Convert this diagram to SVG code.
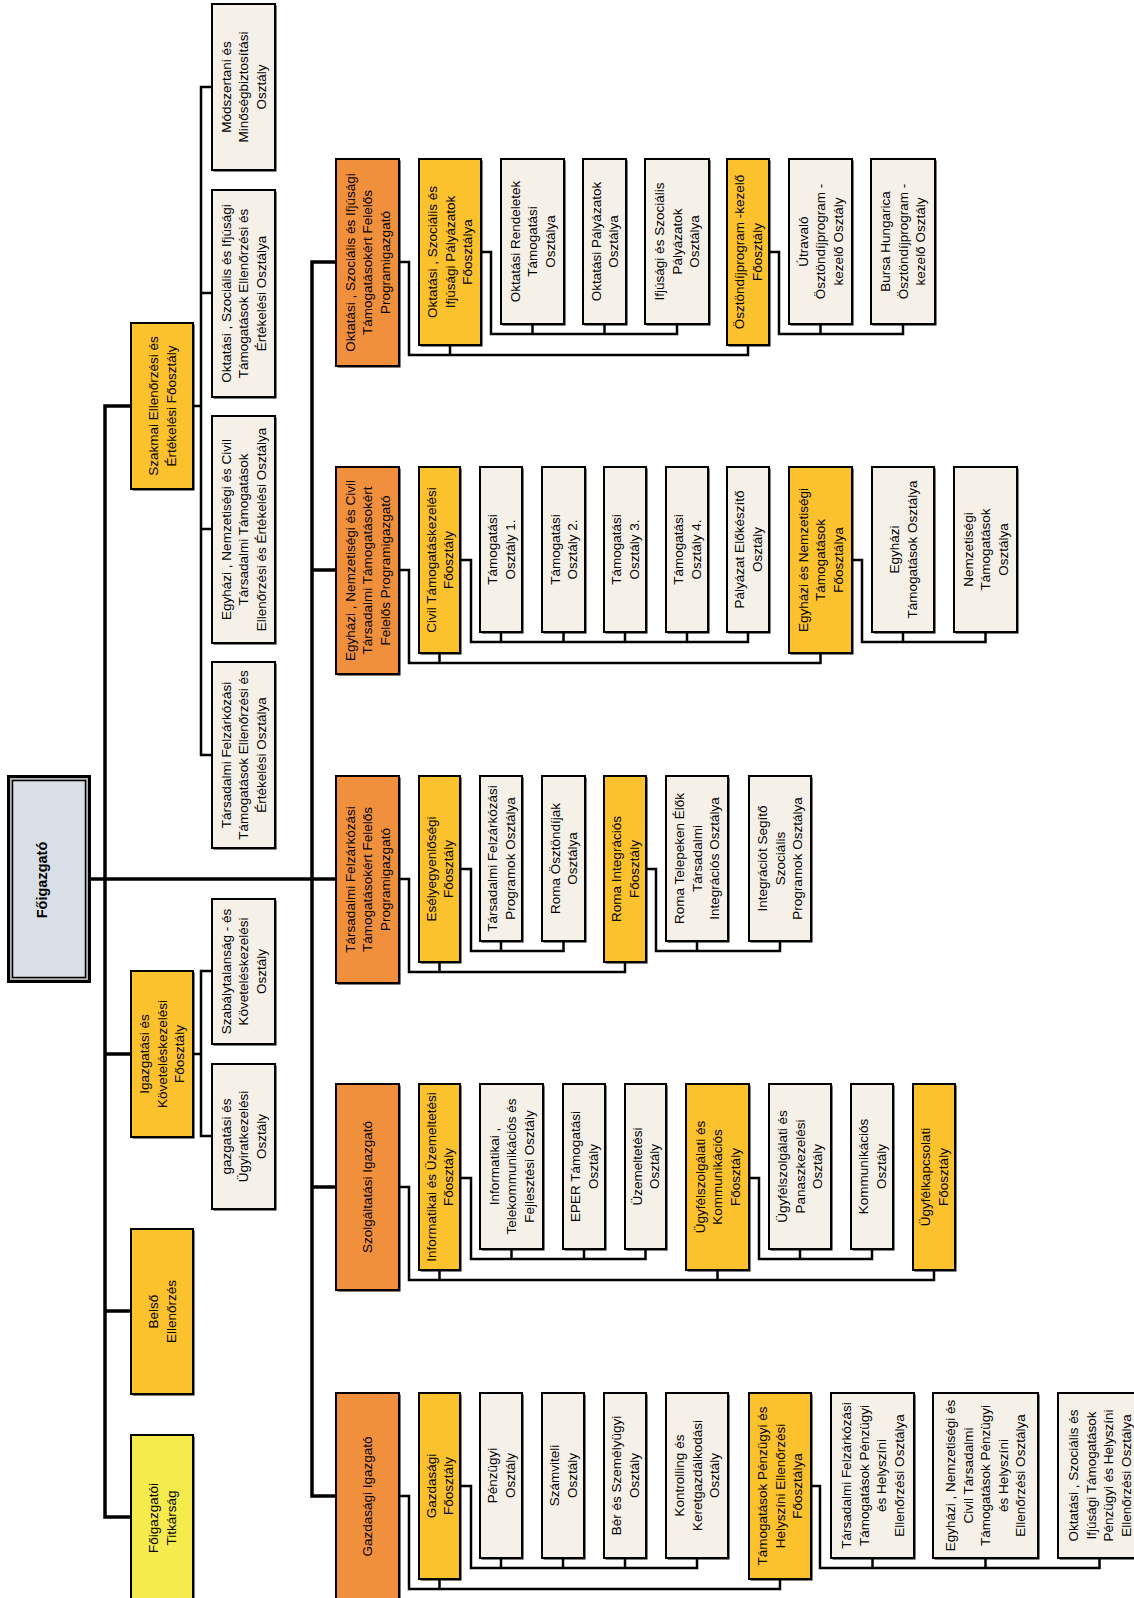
<svg xmlns="http://www.w3.org/2000/svg" width="1134" height="1598" viewBox="0 0 1134 1598">
<style>
  .or{fill:#f1903c}
  .ye{fill:#fcc22d}
  .be{fill:#f6f1e8}
  .tk{fill:#f5eb4d}
  .box{stroke:#000;stroke-width:2}
  .sh{fill:#000}
  .t{font-family:"Liberation Sans",Arial,sans-serif;font-size:13.5px;text-anchor:middle;fill:#000}
  .tb{font-family:"Liberation Sans",Arial,sans-serif;font-size:14.5px;font-weight:bold;text-anchor:middle;fill:#000}
  .c{fill:none;stroke:#000;stroke-width:2.5;stroke-linecap:square;stroke-linejoin:miter}
  .m{stroke-width:3.5}
</style>
<rect width="1134" height="1598" fill="#fff"/>

<!-- connectors -->
<g id="connectors">
  <path class="c m" d="M91 879 H336"/>
  <path class="c m" d="M131 406 H105 V1517 H131 M105 1054 H131 M105 1311 H131"/>
  <path class="c m" d="M336 262 H312 V1496 H336 M312 570 H336 M312 1187 H336"/>
  <!-- Szakmai Ellenőrzési és Értékelési Főosztály -->
  <path class="c" d="M193 406 H201 M212 87 H201 V755 H212 M201 293 H212 M201 529 H212"/>
  <!-- Igazgatási és Követeléskezelési Főosztály -->
  <path class="c" d="M193 1054 H201 M212 971 H201 V1136 H212"/>
  <!-- Oktatási programigazgató -->
  <path class="c" d="M399 262 H409 V355 H748 V345 M450 345 V355"/>
  <path class="c" d="M481 252 H491 V334 H677 V324 M532.5 324 V334 M604.5 324 V334"/>
  <path class="c" d="M769 252 H779 V334 H903 V324 M820.5 324 V334"/>
  <!-- Egyházi, Nemzetiségi és Civil programigazgató -->
  <path class="c" d="M399 570 H409 V663 H820.5 V653 M439.5 653 V663"/>
  <path class="c" d="M460 560 H471 V642 H748 V632 M501 632 V642 M563.5 632 V642 M625 632 V642 M687 632 V642"/>
  <path class="c" d="M852 560 H862 V642 H985.5 V632 M903 632 V642"/>
  <!-- Társadalmi Felzárkózási programigazgató -->
  <path class="c" d="M399 879 H409 V972 H625 V962 M439.5 962 V972"/>
  <path class="c" d="M460 869 H471 V951 H563.5 V941 M501 941 V951"/>
  <path class="c" d="M646 869 H656 V951 H780 V941 M697 941 V951"/>
  <!-- Szolgáltatási Igazgató -->
  <path class="c" d="M399 1187 H409 V1280 H934 V1270 M439.5 1270 V1280 M717.5 1270 V1280"/>
  <path class="c" d="M460 1178 H471 V1259 H645.5 V1249 M511.5 1249 V1259 M584 1249 V1259"/>
  <path class="c" d="M749 1178 H759 V1259 H872 V1249 M800 1249 V1259"/>
  <!-- Gazdasági Igazgató -->
  <path class="c" d="M399 1496 H409 V1589 H780 V1579 M439.5 1579 V1589"/>
  <path class="c" d="M460 1486 H471 V1568 H697 V1558 M501 1558 V1568 M563 1558 V1568 M625 1558 V1568"/>
  <path class="c" d="M811 1486 H820 V1568 H1099.5 V1558 M872.5 1558 V1568 M985.5 1558 V1568"/>
</g>

<!-- top node -->
<g id="foigazgato">
  <rect x="8.5" y="776.5" width="81" height="205" fill="#b4b4b4" stroke="#000" stroke-width="3"/>
  <rect x="12.5" y="780.5" width="73" height="197" fill="#d8dfe7" stroke="#000" stroke-width="1.5"/>
  <g transform="translate(42,880) rotate(-90)"><text class="tb" x="0" y="5">Főigazgató</text></g>
</g>

<!-- left column -->
<g id="titkarsag"><rect class="sh" x="132.5" y="1436.5" width="62" height="166"/><rect class="box tk" x="131" y="1435" width="62" height="166"/>
  <g transform="translate(162,1518) rotate(-90)"><text class="t"><tspan x="0" y="-3.95">Főigazgatói</tspan><tspan x="0" y="13.55">Titkárság</tspan></text></g></g>
<g id="belso"><rect class="sh" x="132.5" y="1230.5" width="62" height="165"/><rect class="box ye" x="131" y="1229" width="62" height="165"/>
  <g transform="translate(162,1311.5) rotate(-90)"><text class="t"><tspan x="0" y="-3.95">Belső</tspan><tspan x="0" y="13.55">Ellenőrzés</tspan></text></g></g>
<g id="igazgatasi"><rect class="sh" x="132.5" y="972.5" width="62" height="166"/><rect class="box ye" x="131" y="971" width="62" height="166"/>
  <g transform="translate(162,1054) rotate(-90)"><text class="t"><tspan x="0" y="-12.7">Igazgatási és</tspan><tspan x="0" y="4.8">Követeléskezelési</tspan><tspan x="0" y="22.3">Főosztály</tspan></text></g></g>
<g id="szakmai"><rect class="sh" x="132.5" y="324.5" width="62" height="166"/><rect class="box ye" x="131" y="323" width="62" height="166"/>
  <g transform="translate(162,406) rotate(-90)"><text class="t"><tspan x="0" y="-3.95">Szakmai Ellenőrzési és</tspan><tspan x="0" y="13.55">Értékelési Főosztály</tspan></text></g></g>

<g id="modszertani"><rect class="sh" x="213.5" y="5.5" width="63" height="166"/><rect class="box be" x="212" y="4" width="63" height="166"/>
  <g transform="translate(243.5,87) rotate(-90)"><text class="t"><tspan x="0" y="-12.7">Módszertani és</tspan><tspan x="0" y="4.8">Minőségbiztosítási</tspan><tspan x="0" y="22.3">Osztály</tspan></text></g></g>
<g id="oktatasi-ell"><rect class="sh" x="213.5" y="191.5" width="63" height="207"/><rect class="box be" x="212" y="190" width="63" height="207"/>
  <g transform="translate(243.5,293.5) rotate(-90)"><text class="t"><tspan x="0" y="-12.7">Oktatási , Szociális és Ifjúsági</tspan><tspan x="0" y="4.8">Támogatások Ellenőrzési és</tspan><tspan x="0" y="22.3">Értékelési Osztálya</tspan></text></g></g>
<g id="egyhazi-ell"><rect class="sh" x="213.5" y="417.5" width="63" height="227"/><rect class="box be" x="212" y="416" width="63" height="227"/>
  <g transform="translate(243.5,529.5) rotate(-90)"><text class="t"><tspan x="0" y="-12.7">Egyházi , Nemzetiségi és Civil</tspan><tspan x="0" y="4.8">Társadalmi Támogatások</tspan><tspan x="0" y="22.3">Ellenőrzési és Értékelési Osztálya</tspan></text></g></g>
<g id="tarsadalmi-ell"><rect class="sh" x="213.5" y="663.5" width="63" height="186"/><rect class="box be" x="212" y="662" width="63" height="186"/>
  <g transform="translate(243.5,755) rotate(-90)"><text class="t"><tspan x="0" y="-12.7">Társadalmi Felzárkózási</tspan><tspan x="0" y="4.8">Támogatások Ellenőrzési és</tspan><tspan x="0" y="22.3">Értékelési Osztálya</tspan></text></g></g>
<g id="szabalytalansag"><rect class="sh" x="213.5" y="900.5" width="63" height="145"/><rect class="box be" x="212" y="899" width="63" height="145"/>
  <g transform="translate(243.5,971.5) rotate(-90)"><text class="t"><tspan x="0" y="-12.7">Szabálytalanság - és</tspan><tspan x="0" y="4.8">Követeléskezelési</tspan><tspan x="0" y="22.3">Osztály</tspan></text></g></g>
<g id="ugyirat"><rect class="sh" x="213.5" y="1065.5" width="63" height="145"/><rect class="box be" x="212" y="1064" width="63" height="145"/>
  <g transform="translate(243.5,1136.5) rotate(-90)"><text class="t"><tspan x="0" y="-12.7">gazgatási és</tspan><tspan x="0" y="4.8">Ügyiratkezelési</tspan><tspan x="0" y="22.3">Osztály</tspan></text></g></g>

<!-- directors -->
<g id="dir-oktatasi"><rect class="sh" x="337.5" y="160.5" width="63" height="207"/><rect class="box or" x="336" y="159" width="63" height="207"/>
  <g transform="translate(367.5,262.5) rotate(-90)"><text class="t"><tspan x="0" y="-12.7">Oktatási , Szociális és Ifjúsági</tspan><tspan x="0" y="4.8">Támogatásokért Felelős</tspan><tspan x="0" y="22.3">Programigazgató</tspan></text></g></g>
<g id="dir-egyhazi"><rect class="sh" x="337.5" y="468.5" width="63" height="207"/><rect class="box or" x="336" y="467" width="63" height="207"/>
  <g transform="translate(367.5,570.5) rotate(-90)"><text class="t"><tspan x="0" y="-12.7">Egyházi , Nemzetiségi és Civil</tspan><tspan x="0" y="4.8">Társadalmi Támogatásokért</tspan><tspan x="0" y="22.3">Felelős Programigazgató</tspan></text></g></g>
<g id="dir-tarsadalmi"><rect class="sh" x="337.5" y="777.5" width="63" height="207"/><rect class="box or" x="336" y="776" width="63" height="207"/>
  <g transform="translate(367.5,879.5) rotate(-90)"><text class="t"><tspan x="0" y="-12.7">Társadalmi Felzárkózási</tspan><tspan x="0" y="4.8">Támogatásokért Felelős</tspan><tspan x="0" y="22.3">Programigazgató</tspan></text></g></g>
<g id="dir-szolgaltatasi"><rect class="sh" x="337.5" y="1085.5" width="63" height="206"/><rect class="box or" x="336" y="1084" width="63" height="206"/>
  <g transform="translate(367.5,1187) rotate(-90)"><text class="t"><tspan x="0" y="4.8">Szolgáltatási Igazgató</tspan></text></g></g>
<g id="dir-gazdasagi"><rect class="sh" x="337.5" y="1394.5" width="63" height="207"/><rect class="box or" x="336" y="1393" width="63" height="207"/>
  <g transform="translate(367.5,1496.5) rotate(-90)"><text class="t"><tspan x="0" y="4.8">Gazdasági Igazgató</tspan></text></g></g>

<!-- row A -->
<g id="a-palyazatok"><rect class="sh" x="420.5" y="160.5" width="62" height="186"/><rect class="box ye" x="419" y="159" width="62" height="186"/>
  <g transform="translate(450,252) rotate(-90)"><text class="t"><tspan x="0" y="-12.7">Oktatási , Szociális és</tspan><tspan x="0" y="4.8">Ifjúsági Pályázatok</tspan><tspan x="0" y="22.3">Főosztálya</tspan></text></g></g>
<g id="a-rendeletek"><rect class="sh" x="502.5" y="160.5" width="63" height="165"/><rect class="box be" x="501" y="159" width="63" height="165"/>
  <g transform="translate(532.5,241.5) rotate(-90)"><text class="t"><tspan x="0" y="-12.7">Oktatási Rendeletek</tspan><tspan x="0" y="4.8">Támogatási</tspan><tspan x="0" y="22.3">Osztálya</tspan></text></g></g>
<g id="a-okt-palyazatok"><rect class="sh" x="584.5" y="160.5" width="43" height="165"/><rect class="box be" x="583" y="159" width="43" height="165"/>
  <g transform="translate(604.5,241.5) rotate(-90)"><text class="t"><tspan x="0" y="-3.95">Oktatási Pályázatok</tspan><tspan x="0" y="13.55">Osztálya</tspan></text></g></g>
<g id="a-ifjusagi"><rect class="sh" x="646.5" y="160.5" width="64" height="165"/><rect class="box be" x="645" y="159" width="64" height="165"/>
  <g transform="translate(677,241.5) rotate(-90)"><text class="t"><tspan x="0" y="-12.7">Ifjúsági és Szociális</tspan><tspan x="0" y="4.8">Pályázatok</tspan><tspan x="0" y="22.3">Osztálya</tspan></text></g></g>
<g id="a-osztondij"><rect class="sh" x="728.5" y="160.5" width="42" height="186"/><rect class="box ye" x="727" y="159" width="42" height="186"/>
  <g transform="translate(748,252) rotate(-90)"><text class="t"><tspan x="0" y="-3.95">Ösztöndíjprogram -kezelő</tspan><tspan x="0" y="13.55">Főosztály</tspan></text></g></g>
<g id="a-utravalo"><rect class="sh" x="790.5" y="160.5" width="63" height="165"/><rect class="box be" x="789" y="159" width="63" height="165"/>
  <g transform="translate(820.5,241.5) rotate(-90)"><text class="t"><tspan x="0" y="-12.7">Útravaló</tspan><tspan x="0" y="4.8">Ösztöndíjprogram -</tspan><tspan x="0" y="22.3">kezelő Osztály</tspan></text></g></g>
<g id="a-bursa"><rect class="sh" x="872.5" y="160.5" width="64" height="165"/><rect class="box be" x="871" y="159" width="64" height="165"/>
  <g transform="translate(903,241.5) rotate(-90)"><text class="t"><tspan x="0" y="-12.7">Bursa Hungarica</tspan><tspan x="0" y="4.8">Ösztöndíjprogram -</tspan><tspan x="0" y="22.3">kezelő Osztály</tspan></text></g></g>

<!-- row B -->
<g id="b-civil"><rect class="sh" x="420.5" y="468.5" width="41" height="186"/><rect class="box ye" x="419" y="467" width="41" height="186"/>
  <g transform="translate(439.5,560) rotate(-90)"><text class="t"><tspan x="0" y="-3.95">Civil Támogatáskezelési</tspan><tspan x="0" y="13.55">Főosztály</tspan></text></g></g>
<g id="b-tam1"><rect class="sh" x="481.5" y="468.5" width="42" height="165"/><rect class="box be" x="480" y="467" width="42" height="165"/>
  <g transform="translate(501,549.5) rotate(-90)"><text class="t"><tspan x="0" y="-3.95">Támogatási</tspan><tspan x="0" y="13.55">Osztály 1.</tspan></text></g></g>
<g id="b-tam2"><rect class="sh" x="543.5" y="468.5" width="43" height="165"/><rect class="box be" x="542" y="467" width="43" height="165"/>
  <g transform="translate(563.5,549.5) rotate(-90)"><text class="t"><tspan x="0" y="-3.95">Támogatási</tspan><tspan x="0" y="13.55">Osztály 2.</tspan></text></g></g>
<g id="b-tam3"><rect class="sh" x="605.5" y="468.5" width="42" height="165"/><rect class="box be" x="604" y="467" width="42" height="165"/>
  <g transform="translate(625,549.5) rotate(-90)"><text class="t"><tspan x="0" y="-3.95">Támogatási</tspan><tspan x="0" y="13.55">Osztály 3.</tspan></text></g></g>
<g id="b-tam4"><rect class="sh" x="667.5" y="468.5" width="42" height="165"/><rect class="box be" x="666" y="467" width="42" height="165"/>
  <g transform="translate(687,549.5) rotate(-90)"><text class="t"><tspan x="0" y="-3.95">Támogatási</tspan><tspan x="0" y="13.55">Osztály 4.</tspan></text></g></g>
<g id="b-palyazat"><rect class="sh" x="728.5" y="468.5" width="42" height="165"/><rect class="box be" x="727" y="467" width="42" height="165"/>
  <g transform="translate(748,549.5) rotate(-90)"><text class="t"><tspan x="0" y="-3.95">Pályázat Előkészítő</tspan><tspan x="0" y="13.55">Osztály</tspan></text></g></g>
<g id="b-egyhazi-nemz"><rect class="sh" x="790.5" y="468.5" width="63" height="186"/><rect class="box ye" x="789" y="467" width="63" height="186"/>
  <g transform="translate(820.5,560) rotate(-90)"><text class="t"><tspan x="0" y="-12.7">Egyházi és Nemzetiségi</tspan><tspan x="0" y="4.8">Támogatások</tspan><tspan x="0" y="22.3">Főosztálya</tspan></text></g></g>
<g id="b-egyhazi"><rect class="sh" x="873.5" y="468.5" width="62" height="165"/><rect class="box be" x="872" y="467" width="62" height="165"/>
  <g transform="translate(903,549.5) rotate(-90)"><text class="t"><tspan x="0" y="-3.95">Egyházi</tspan><tspan x="0" y="13.55">Támogatások Osztálya</tspan></text></g></g>
<g id="b-nemzetisegi"><rect class="sh" x="955.5" y="468.5" width="63" height="165"/><rect class="box be" x="954" y="467" width="63" height="165"/>
  <g transform="translate(985.5,549.5) rotate(-90)"><text class="t"><tspan x="0" y="-12.7">Nemzetiségi</tspan><tspan x="0" y="4.8">Támogatások</tspan><tspan x="0" y="22.3">Osztálya</tspan></text></g></g>

<!-- row C -->
<g id="c-esely"><rect class="sh" x="420.5" y="777.5" width="41" height="186"/><rect class="box ye" x="419" y="776" width="41" height="186"/>
  <g transform="translate(439.5,869) rotate(-90)"><text class="t"><tspan x="0" y="-3.95">Esélyegyenlőségi</tspan><tspan x="0" y="13.55">Főosztály</tspan></text></g></g>
<g id="c-programok"><rect class="sh" x="481.5" y="777.5" width="42" height="165"/><rect class="box be" x="480" y="776" width="42" height="165"/>
  <g transform="translate(501,858.5) rotate(-90)"><text class="t"><tspan x="0" y="-3.95">Társadalmi Felzárkózási</tspan><tspan x="0" y="13.55">Programok Osztálya</tspan></text></g></g>
<g id="c-roma-osztondij"><rect class="sh" x="543.5" y="777.5" width="43" height="165"/><rect class="box be" x="542" y="776" width="43" height="165"/>
  <g transform="translate(563.5,858.5) rotate(-90)"><text class="t"><tspan x="0" y="-3.95">Roma Ösztöndíjak</tspan><tspan x="0" y="13.55">Osztálya</tspan></text></g></g>
<g id="c-roma-int"><rect class="sh" x="605.5" y="777.5" width="42" height="186"/><rect class="box ye" x="604" y="776" width="42" height="186"/>
  <g transform="translate(625,869) rotate(-90)"><text class="t"><tspan x="0" y="-3.95">Roma Integrációs</tspan><tspan x="0" y="13.55">Főosztály</tspan></text></g></g>
<g id="c-telepek"><rect class="sh" x="667.5" y="777.5" width="62" height="165"/><rect class="box be" x="666" y="776" width="62" height="165"/>
  <g transform="translate(697,858.5) rotate(-90)"><text class="t"><tspan x="0" y="-12.7">Roma Telepeken Élők</tspan><tspan x="0" y="4.8">Társadalmi</tspan><tspan x="0" y="22.3">Integrációs Osztálya</tspan></text></g></g>
<g id="c-segito"><rect class="sh" x="750.5" y="777.5" width="62" height="165"/><rect class="box be" x="749" y="776" width="62" height="165"/>
  <g transform="translate(780,858.5) rotate(-90)"><text class="t"><tspan x="0" y="-12.7">Integrációt Segítő</tspan><tspan x="0" y="4.8">Szociális</tspan><tspan x="0" y="22.3">Programok Osztálya</tspan></text></g></g>

<!-- row D -->
<g id="d-informatikai-fo"><rect class="sh" x="420.5" y="1085.5" width="41" height="186"/><rect class="box ye" x="419" y="1084" width="41" height="186"/>
  <g transform="translate(439.5,1177) rotate(-90)"><text class="t"><tspan x="0" y="-3.95">Informatikai és Üzemeltetési</tspan><tspan x="0" y="13.55">Főosztály</tspan></text></g></g>
<g id="d-telekom"><rect class="sh" x="481.5" y="1085.5" width="63" height="165"/><rect class="box be" x="480" y="1084" width="63" height="165"/>
  <g transform="translate(511.5,1166.5) rotate(-90)"><text class="t"><tspan x="0" y="-12.7">Informatikai ,</tspan><tspan x="0" y="4.8">Telekommunikációs és</tspan><tspan x="0" y="22.3">Fejlesztési Osztály</tspan></text></g></g>
<g id="d-eper"><rect class="sh" x="564.5" y="1085.5" width="42" height="165"/><rect class="box be" x="563" y="1084" width="42" height="165"/>
  <g transform="translate(584,1166.5) rotate(-90)"><text class="t"><tspan x="0" y="-3.95">EPER Támogatási</tspan><tspan x="0" y="13.55">Osztály</tspan></text></g></g>
<g id="d-uzemeltetesi"><rect class="sh" x="626.5" y="1085.5" width="41" height="165"/><rect class="box be" x="625" y="1084" width="41" height="165"/>
  <g transform="translate(645.5,1166.5) rotate(-90)"><text class="t"><tspan x="0" y="-3.95">Üzemeltetési</tspan><tspan x="0" y="13.55">Osztály</tspan></text></g></g>
<g id="d-ugyfelszolg-fo"><rect class="sh" x="687.5" y="1085.5" width="63" height="186"/><rect class="box ye" x="686" y="1084" width="63" height="186"/>
  <g transform="translate(717.5,1177) rotate(-90)"><text class="t"><tspan x="0" y="-12.7">Ügyfélszolgálati és</tspan><tspan x="0" y="4.8">Kommunikációs</tspan><tspan x="0" y="22.3">Főosztály</tspan></text></g></g>
<g id="d-panasz"><rect class="sh" x="770.5" y="1085.5" width="62" height="165"/><rect class="box be" x="769" y="1084" width="62" height="165"/>
  <g transform="translate(800,1166.5) rotate(-90)"><text class="t"><tspan x="0" y="-12.7">Ügyfélszolgálati és</tspan><tspan x="0" y="4.8">Panaszkezelési</tspan><tspan x="0" y="22.3">Osztály</tspan></text></g></g>
<g id="d-kommunikacios"><rect class="sh" x="852.5" y="1085.5" width="42" height="165"/><rect class="box be" x="851" y="1084" width="42" height="165"/>
  <g transform="translate(872,1166.5) rotate(-90)"><text class="t"><tspan x="0" y="-3.95">Kommunikációs</tspan><tspan x="0" y="13.55">Osztály</tspan></text></g></g>
<g id="d-ugyfelkapcsolati"><rect class="sh" x="914.5" y="1085.5" width="42" height="186"/><rect class="box ye" x="913" y="1084" width="42" height="186"/>
  <g transform="translate(934,1177) rotate(-90)"><text class="t"><tspan x="0" y="-3.95">Ügyfélkapcsolati</tspan><tspan x="0" y="13.55">Főosztály</tspan></text></g></g>

<!-- row E -->
<g id="e-gazdasagi-fo"><rect class="sh" x="420.5" y="1394.5" width="41" height="186"/><rect class="box ye" x="419" y="1393" width="41" height="186"/>
  <g transform="translate(439.5,1486) rotate(-90)"><text class="t"><tspan x="0" y="-3.95">Gazdasági</tspan><tspan x="0" y="13.55">Főosztály</tspan></text></g></g>
<g id="e-penzugyi"><rect class="sh" x="481.5" y="1394.5" width="42" height="165"/><rect class="box be" x="480" y="1393" width="42" height="165"/>
  <g transform="translate(501,1475.5) rotate(-90)"><text class="t"><tspan x="0" y="-3.95">Pénzügyi</tspan><tspan x="0" y="13.55">Osztály</tspan></text></g></g>
<g id="e-szamviteli"><rect class="sh" x="543.5" y="1394.5" width="42" height="165"/><rect class="box be" x="542" y="1393" width="42" height="165"/>
  <g transform="translate(563,1475.5) rotate(-90)"><text class="t"><tspan x="0" y="-3.95">Számviteli</tspan><tspan x="0" y="13.55">Osztály</tspan></text></g></g>
<g id="e-ber"><rect class="sh" x="605.5" y="1394.5" width="42" height="165"/><rect class="box be" x="604" y="1393" width="42" height="165"/>
  <g transform="translate(625,1475.5) rotate(-90)"><text class="t"><tspan x="0" y="-3.95">Bér és Személyügyi</tspan><tspan x="0" y="13.55">Osztály</tspan></text></g></g>
<g id="e-kontrolling"><rect class="sh" x="667.5" y="1394.5" width="62" height="165"/><rect class="box be" x="666" y="1393" width="62" height="165"/>
  <g transform="translate(697,1475.5) rotate(-90)"><text class="t"><tspan x="0" y="-12.7">Kontrolling és</tspan><tspan x="0" y="4.8">Keretgazdálkodási</tspan><tspan x="0" y="22.3">Osztály</tspan></text></g></g>
<g id="e-tamogatasok-fo"><rect class="sh" x="750.5" y="1394.5" width="62" height="186"/><rect class="box ye" x="749" y="1393" width="62" height="186"/>
  <g transform="translate(780,1486) rotate(-90)"><text class="t"><tspan x="0" y="-12.7">Támogatások Pénzügyi és</tspan><tspan x="0" y="4.8">Helyszíni Ellenőrzési</tspan><tspan x="0" y="22.3">Főosztálya</tspan></text></g></g>
<g id="e-tarsadalmi"><rect class="sh" x="832.5" y="1394.5" width="83" height="165"/><rect class="box be" x="831" y="1393" width="83" height="165"/>
  <g transform="translate(872.5,1475.5) rotate(-90)"><text class="t"><tspan x="0" y="-21.45">Társadalmi Felzárkózási</tspan><tspan x="0" y="-3.95">Támogatások Pénzügyi</tspan><tspan x="0" y="13.55">és Helyszíni</tspan><tspan x="0" y="31.05">Ellenőrzési Osztálya</tspan></text></g></g>
<g id="e-egyhazi"><rect class="sh" x="934.5" y="1394.5" width="105" height="165"/><rect class="box be" x="933" y="1393" width="105" height="165"/>
  <g transform="translate(985.5,1475.5) rotate(-90)"><text class="t"><tspan x="0" y="-30.2">Egyházi , Nemzetiségi és</tspan><tspan x="0" y="-12.7">Civil Társadalmi</tspan><tspan x="0" y="4.8">Támogatások Pénzügyi</tspan><tspan x="0" y="22.3">és Helyszíni</tspan><tspan x="0" y="39.8">Ellenőrzési Osztálya</tspan></text></g></g>
<g id="e-oktatasi"><rect class="sh" x="1059.5" y="1394.5" width="83" height="165"/><rect class="box be" x="1058" y="1393" width="83" height="165"/>
  <g transform="translate(1099.5,1475.5) rotate(-90)"><text class="t"><tspan x="0" y="-21.45">Oktatási , Szociális és</tspan><tspan x="0" y="-3.95">Ifjúsági Támogatások</tspan><tspan x="0" y="13.55">Pénzügyi és Helyszíni</tspan><tspan x="0" y="31.05">Ellenőrzési Osztálya</tspan></text></g></g>
</svg>
